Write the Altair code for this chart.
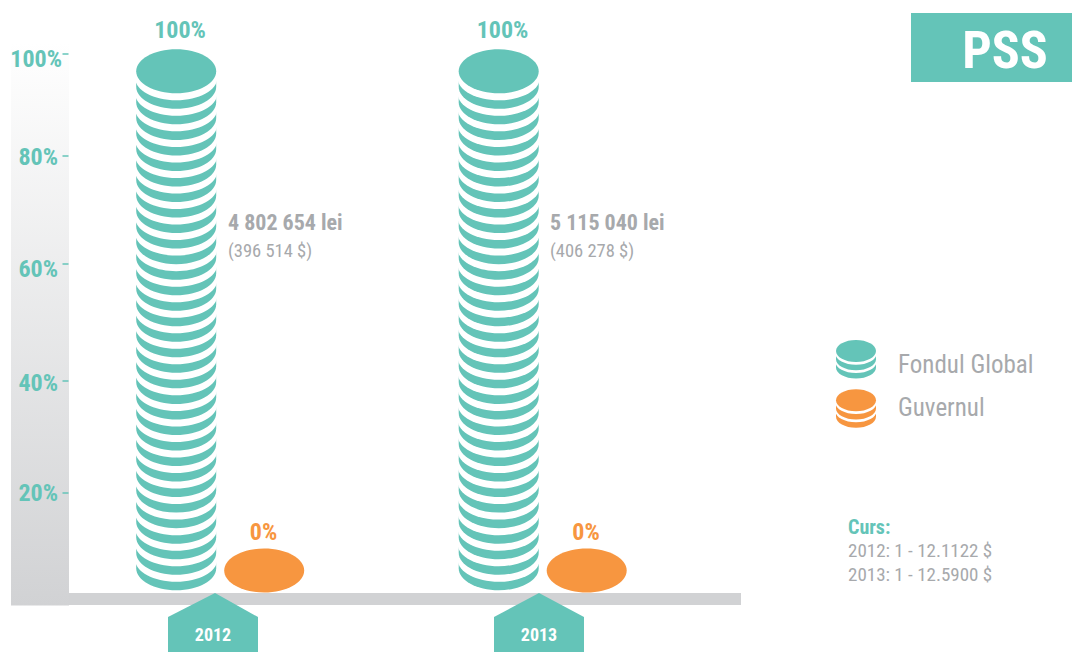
import altair as alt
import pandas as pd

TEAL = "#64c4b8"
ORANGE = "#f79640"
GRAY = "#a7a9ac"
BAND = "#d1d2d4"
NARROW = "Roboto Condensed"

# values
years = ["2012", "2013"]
fund_share = ["100%", "100%"]
gov_share = ["0%", "0%"]
lei = ["4 802 654 lei", "5 115 040 lei"]
usd = ["(396 514 $)", "(406 278 $)"]
stack_x = [176.2, 498.7]
gov_x = [264.2, 586.7]
coins_in_stack = [33, 33]
tick_labels = ["100%", "80%", "60%", "40%", "20%"]
tick_y = [54, 156, 264, 381, 493]
label_x = [62, 58, 58, 58, 58]
label_y = [60, 158, 270, 384, 494]
legend_names = ["Fondul Global", "Guvernul"]
legend_y = [351, 400.3]
legend_text_y = [364.5, 407.5]
rate_lines = ["2012: 1 - 12.1122 $", "2013: 1 - 12.5900 $"]
rate_y = [551, 574.5]
arrow_left = [168, 494]
arrow_apex = [215, 539]
arrow_right = [258, 584]
year_x = [213, 539]

x = alt.Scale(domain=[8, 1072], range=[0, 1064], nice=False, zero=False)
y = alt.Scale(domain=[8, 652], range=[0, 644], nice=False, zero=False)
X = lambda f="x": alt.X(f"{f}:Q", scale=x, axis=None)
Y = lambda f="y": alt.Y(f"{f}:Q", scale=y, axis=None)

# coin glyphs: unit rx=1
RY = 0.55
paths = {
    "top": f"M-1,0A1,{RY},0,1,1,1,0A1,{RY},0,1,1,-1,0Z",
    "body": f"M-1,-0.25L-1,0A1,{RY},0,0,0,1,0L1,-0.25Z",
    "gap": f"M-1.025,0A1.025,{RY},0,1,1,1.025,0A1.025,{RY},0,1,1,-1.025,0Z",
}


def stack(cx, top, n, series, scale=1.0, step=15.53, gap=7):
    size = (80 * scale) ** 2
    rows = []
    for i in range(n - 1, -1, -1):
        c = top + i * step
        if i == 0:
            rows.append(dict(x=cx, y=c, part="top", series=series, size=size))
        else:
            rows.append(dict(x=cx, y=c, part="body", series=series, size=size))
            rows.append(dict(x=cx, y=c - step + gap, part="gap", series="white", size=size))
    return rows


rows = []
for cx, n in zip(stack_x, coins_in_stack):
    rows += stack(cx, 71.3, n, "fund")
for gx in gov_x:
    rows += stack(gx, 570.5, 1, "gov")
rows += stack(856, legend_y[0], 3, "fund", 0.5, 8.2, 2.7)
rows += stack(856, legend_y[1], 3, "gov", 0.5, 8.2, 2.7)

coins = alt.Chart(pd.DataFrame(rows)).mark_point(filled=True, opacity=1, strokeWidth=0).encode(
    x=X(), y=Y(),
    size=alt.Size("size:Q", scale=None, legend=None),
    shape=alt.Shape("part:N", legend=None, scale=alt.Scale(domain=list(paths), range=list(paths.values()))),
    fill=alt.Fill("series:N", legend=None, scale=alt.Scale(domain=["fund", "gov", "white"], range=[TEAL, ORANGE, "#ffffff"])),
)


def rect(x1, x2, y1, y2, color):
    return alt.Chart(pd.DataFrame([dict(x=x1, x2=x2, y=y1, y2=y2)])).mark_rect(color=color).encode(
        x=X(), x2="x2:Q", y=Y(), y2="y2:Q")


gradient = alt.Gradient(gradient="linear", x1=0, x2=0, y1=0, y2=1,
                        stops=[alt.GradientStop(color="#ffffff", offset=0),
                               alt.GradientStop(color=BAND, offset=1)])
side = rect(11, 69, 42, 605.5, gradient)
floor = rect(69, 741, 593, 605, BAND)
badge = rect(911, 1072, 13, 82, TEAL)

ticks = alt.Chart(pd.DataFrame(dict(x=[62.5] * 5, x2=[68.5] * 5, y=tick_y))).mark_rule(color=TEAL, strokeWidth=1.5).encode(
    x=X(), x2="x2:Q", y=Y())

arrow_rows = []
for yr, l, a, r in zip(years, arrow_left, arrow_apex, arrow_right):
    arrow_rows += [dict(g=yr, x=l, y=617, y2=652), dict(g=yr, x=a, y=593, y2=652), dict(g=yr, x=r, y=617, y2=652)]
arrows = alt.Chart(pd.DataFrame(arrow_rows)).mark_area(color=TEAL, opacity=1, interpolate="linear").encode(
    x=X(), y=Y(), y2="y2:Q", detail="g:N")


def text(xs, ys, labels, color, size, bold=False, align="left", font=NARROW):
    return alt.Chart(pd.DataFrame(dict(x=xs, y=ys, t=labels))).mark_text(
        color=color, fontSize=size, fontWeight="bold" if bold else "normal",
        align=align, baseline="middle", font=font).encode(x=X(), y=Y(), text="t:N")


layers = [
    side, floor, badge, ticks, arrows, coins,
    text(label_x, label_y, tick_labels, TEAL, 24, True, "right"),
    text([180, 502.5], [31, 31], fund_share, TEAL, 24, True, "center"),
    text([263.5, 586], [533, 533], gov_share, ORANGE, 24, True, "center"),
    text([228, 550], [222.5, 222.5], lei, GRAY, 22, True),
    text([228, 550], [250.5, 250.5], usd, GRAY, 18.5),
    text(year_x, [636, 636], years, "#ffffff", 18, True, "center"),
    text([898, 898], legend_text_y, legend_names, GRAY, 25),
    text([848], [527.5], ["Curs:"], TEAL, 20, True),
    text([848, 848], rate_y, rate_lines, GRAY, 19),
    text([1005], [51.5], ["PSS"], "#ffffff", 52, True, "center"),
]

chart = alt.layer(*layers).properties(
    width=1064, height=644, padding=0, autosize=alt.AutoSizeParams(type="none"),
).configure_view(stroke=None)

chart.save("out.html", embed_options={"renderer": "svg", "actions": False})
